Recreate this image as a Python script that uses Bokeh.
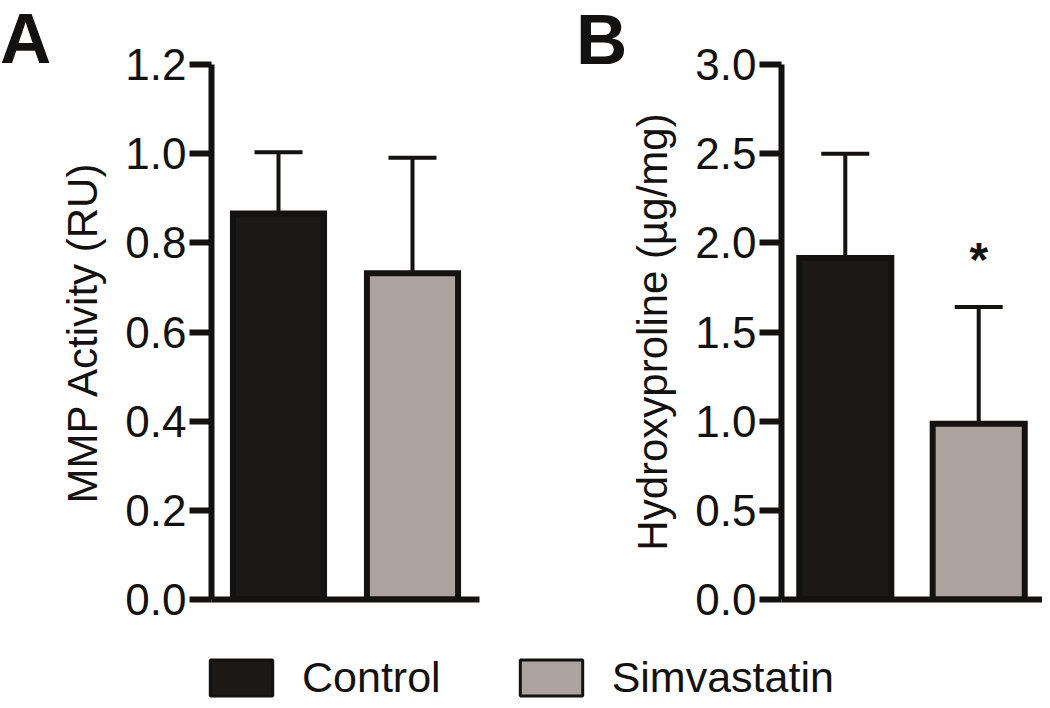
from bokeh.plotting import figure
from bokeh.models import (ColumnDataSource, FactorRange, Range1d, FixedTicker, Whisker,
                          TeeHead, Legend, LegendItem, NumeralTickFormatter, Div)
from bokeh.layouts import row, column
from bokeh.embed import file_html
from bokeh.resources import INLINE
from bokeh.core.properties import value

# ---------------- data ----------------
groups = ["Control", "Simvastatin"]

mmp_mean = [0.866, 0.732]
mmp_upper = [1.003, 0.991]
mmp_ticks = [0.0, 0.2, 0.4, 0.6, 0.8, 1.0, 1.2]
mmp_tick_labels = ["0.0", "0.2", "0.4", "0.6", "0.8", "1.0", "1.2"]

hyp_mean = [1.915, 0.985]
hyp_upper = [2.50, 1.64]
hyp_ticks = [0.0, 0.5, 1.0, 1.5, 2.0, 2.5, 3.0]
hyp_tick_labels = ["0.0", "0.5", "1.0", "1.5", "2.0", "2.5", "3.0"]
hyp_significance = ["", "*"]

panel_letters = ["A", "B"]

# ---------------- style ----------------
FONT = "Liberation Sans"
INK = "#141210"
FILL = ["#1b1815", "#aca39e"]
BG = "#ffffff"
H = 640


def blank(width, height, x_range, y_range):
    f = figure(width=width, height=height, x_range=x_range, y_range=y_range,
               output_backend="svg", toolbar_location=None,
               x_axis_location=None, y_axis_location=None, min_border=0)
    f.background_fill_color = BG
    f.border_fill_color = BG
    f.outline_line_color = None
    f.grid.visible = False
    return f


def letter_div(letter, width, pad_left, pad_top):
    html = ('<div style="font-family:\'%s\';font-weight:bold;font-size:71px;'
            'line-height:71px;color:%s;padding-left:%dpx;padding-top:%dpx;">%s</div>'
            % (FONT, INK, pad_left, pad_top, letter))
    return Div(text=html, width=width, height=H, margin=0)


def panel(means, uppers, ticks, tick_labels, ylabel, width, left, right,
          bar_width, pad, stars=None):
    src = ColumnDataSource(dict(group=groups, top=means, upper=uppers, fill=FILL))
    p = figure(width=width, height=H,
               x_range=FactorRange(factors=groups, range_padding=pad,
                                   range_padding_units="absolute"),
               y_range=Range1d(ticks[0], ticks[-1]),
               output_backend="svg", toolbar_location=None,
               min_border_left=left, min_border_right=right,
               min_border_top=64, min_border_bottom=41)
    p.background_fill_color = BG
    p.border_fill_color = BG
    p.outline_line_color = None
    p.grid.visible = False

    p.vbar(x="group", top="top", bottom=0, width=bar_width, source=src,
           fill_color="fill", line_color=INK, line_width=6, line_join="miter")

    w = Whisker(source=src, base="group", lower="top", upper="upper",
                dimension="height", line_color=INK, line_width=4,
                upper_head=TeeHead(size=48, line_width=4, line_color=INK),
                lower_head=None, level="glyph")
    p.add_layout(w)

    if stars is not None:
        src.data["star"] = stars
        p.text(x="group", y="upper", text="star", source=src,
               text_align="center", text_baseline="alphabetic", y_offset=-48,
               text_font=value(FONT), text_font_size="48px",
               text_font_style="bold", text_color=INK)

    yax = p.yaxis[0]
    yax.ticker = FixedTicker(ticks=ticks)
    yax.formatter = NumeralTickFormatter(format="0.0")
    yax.major_label_overrides = {t: l for t, l in zip(ticks, tick_labels)}
    yax.axis_line_width = 6
    yax.axis_line_color = INK
    yax.major_tick_line_width = 6
    yax.major_tick_line_color = INK
    yax.major_tick_out = 22
    yax.major_tick_in = 0
    yax.minor_tick_line_color = None
    yax.major_label_text_font = FONT
    yax.major_label_text_font_size = "44px"
    yax.major_label_text_color = INK
    yax.major_label_standoff = 3
    yax.axis_label = ylabel
    yax.axis_label_text_font = FONT
    yax.axis_label_text_font_size = "42px"
    yax.axis_label_text_font_style = "normal"
    yax.axis_label_text_color = INK
    yax.axis_label_standoff = 16

    xax = p.xaxis[0]
    xax.ticker = FixedTicker(ticks=[])
    xax.axis_line_width = 6
    xax.axis_line_color = INK
    xax.major_tick_line_color = None
    xax.minor_tick_line_color = None
    return p


LA = letter_div(panel_letters[0], 56, 0, 3)
pA = panel(mmp_mean, mmp_upper, mmp_ticks, mmp_tick_labels, "MMP Activity (RU)",
           width=512, left=155, right=89, bar_width=0.68, pad=0.0)
LB = letter_div(panel_letters[1], 58, 8, 4)
pB = panel(hyp_mean, hyp_upper, hyp_ticks, hyp_tick_labels, "Hydroxyproline (\u00b5g/mg)",
           width=416, left=154, right=0, bar_width=0.69, pad=-0.022,
           stars=hyp_significance)

# ---------------- legend strip ----------------
pL = blank(1042, 62, FactorRange(factors=groups), Range1d(0, 1))
lsrc = ColumnDataSource(dict(group=groups, top=mmp_mean, fill=FILL))
lr = pL.vbar(x="group", top="top", bottom=0, width=0.5, source=lsrc,
             fill_color="fill", line_color=INK, line_width=3)
lr.visible = False
legend = Legend(items=[LegendItem(label=g, renderers=[lr], index=i) for i, g in enumerate(groups)],
                orientation="horizontal", location=(202, 0),
                glyph_width=78, glyph_height=45, label_standoff=22, spacing=71,
                padding=0, margin=0, border_line_color=None, background_fill_alpha=0,
                label_text_font=FONT, label_text_font_size="43px", label_text_color=INK)
pL.add_layout(legend)

layout = column(row(LA, pA, LB, pB), pL)
open("out.html", "w").write(file_html(layout, INLINE))
